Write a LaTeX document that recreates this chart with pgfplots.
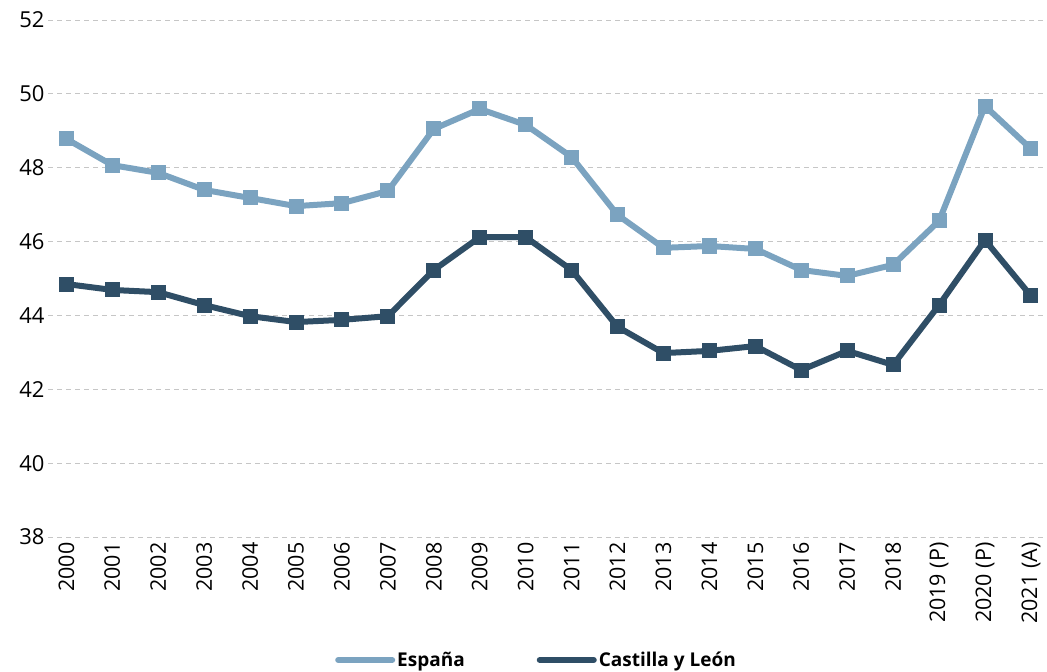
\documentclass[border=0pt]{standalone}
\usepackage{pgfplots}
\pgfplotsset{compat=1.18}
\usepackage{fontspec}
\setmainfont{Open Sans}
\definecolor{cesp}{HTML}{7BA3C0}
\definecolor{ccyl}{HTML}{2F4E66}
\begin{document}
\begin{tikzpicture}[x=1pt,y=1pt]
\useasboundingbox (0,0) rectangle (1047,672);
\begin{axis}[
  at={(48pt,135pt)}, anchor=south west,
  scale only axis, width=999pt, height=517pt,
  xmin=-0.4, xmax=21.35, ymin=38, ymax=52,
  ytick={38,40,...,52},
  xtick={0,...,21},
  xticklabels={2000,2001,2002,2003,2004,2005,2006,2007,2008,2009,2010,2011,2012,2013,2014,2015,2016,2017,2018,2019 (P),2020 (P),2021 (A)},
  x tick label style={rotate=90, anchor=east, font=\fontsize{21.5}{24}\selectfont},
  y tick label style={font=\fontsize{22}{24}\selectfont},
  /pgf/number format/assume math mode=true,
  axis line style={draw=none},
  major tick length=0pt,
  ymajorgrids,
  grid style={dash pattern=on 5pt off 4pt, gray!45, line width=0.8pt},
  xticklabel shift=2pt,
  yticklabel shift=0pt,
  legend columns=2,
  legend style={at={(0.489,-0.238)}, anchor=center, draw=none, fill=none,
    font=\bfseries\fontsize{19}{22}\selectfont,
    /tikz/every even column/.append style={column sep=70pt}},
  legend image code/.code={\draw[line width=6pt, line cap=round] (0pt,0pt) -- (54pt,0pt);},
]
\addplot[cesp, line width=6pt, mark=square*, mark size=7pt, mark options={solid, line width=1pt}] coordinates {
(0,48.78) (1,48.07) (2,47.86) (3,47.40) (4,47.18) (5,46.96) (6,47.04) (7,47.37)
(8,49.05) (9,49.59) (10,49.16) (11,48.29) (12,46.72) (13,45.83) (14,45.88) (15,45.80)
(16,45.23) (17,45.07) (18,45.37) (19,46.56) (20,49.67) (21,48.51)};
\addlegendentry{España}
\addplot[ccyl, line width=6pt, mark=square*, mark size=7pt, mark options={solid, line width=1pt}] coordinates {
(0,44.85) (1,44.69) (2,44.63) (3,44.28) (4,43.98) (5,43.82) (6,43.88) (7,43.98)
(8,45.23) (9,46.12) (10,46.12) (11,45.23) (12,43.69) (13,42.98) (14,43.04) (15,43.17)
(16,42.52) (17,43.04) (18,42.66) (19,44.28) (20,46.04) (21,44.53)};
\addlegendentry{Castilla y León}
\end{axis}
\end{tikzpicture}
\end{document}
